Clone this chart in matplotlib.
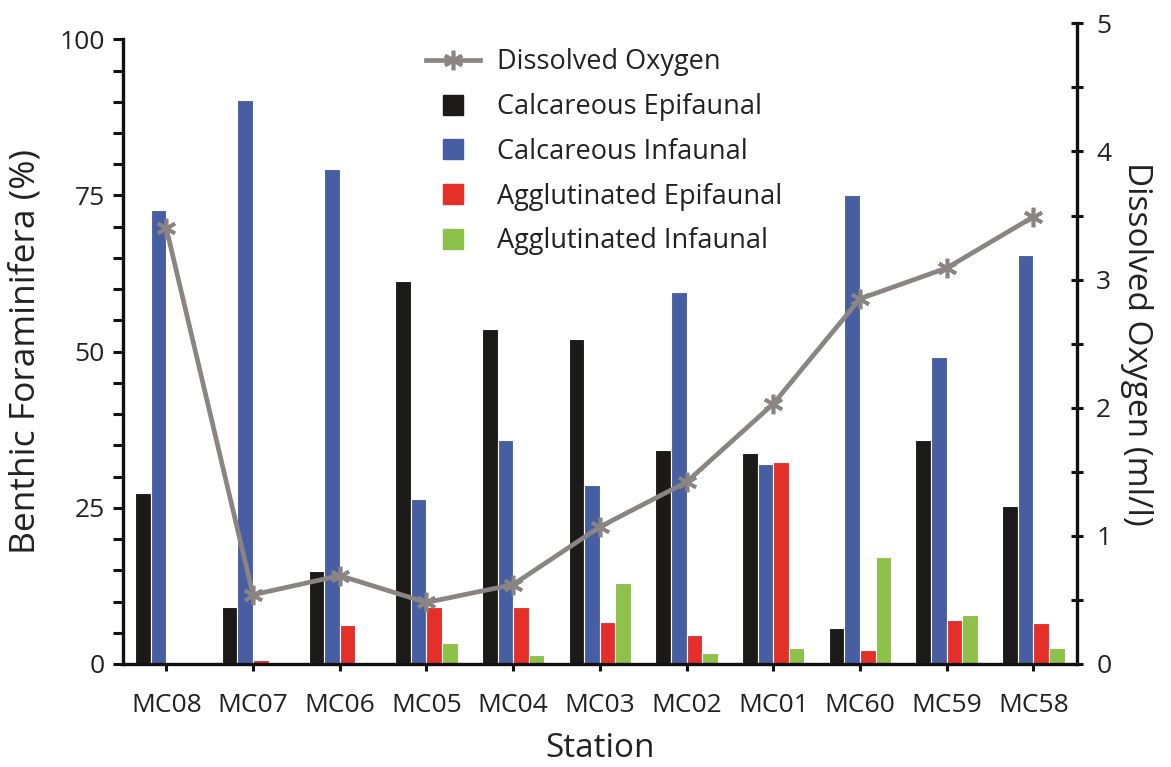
import matplotlib
matplotlib.use("Agg")
import matplotlib.pyplot as plt
import numpy as np
from matplotlib.ticker import MultipleLocator
from matplotlib.lines import Line2D

plt.rcParams['font.family'] = ['Open Sans', 'DejaVu Sans']

stations = ["MC08", "MC07", "MC06", "MC05", "MC04", "MC03",
            "MC02", "MC01", "MC60", "MC59", "MC58"]

calc_epi = [27.4, 9.1, 14.9, 61.3, 53.7, 52.0, 34.3, 33.8, 5.7, 35.9, 25.3]
calc_inf = [72.6, 90.2, 79.2, 26.4, 35.9, 28.6, 59.6, 32.0, 75.1, 49.1, 65.5]
aggl_epi = [0.0, 0.7, 6.2, 9.2, 9.2, 6.8, 4.6, 32.3, 2.2, 7.1, 6.6]
aggl_inf = [0.0, 0.0, 0.0, 3.3, 1.5, 13.0, 1.8, 2.5, 17.1, 7.9, 2.6]

dissolved_oxygen = [3.40, 0.54, 0.69, 0.48, 0.62, 1.07, 1.42, 2.03, 2.85, 3.09, 3.49]

series = [
    ("Calcareous Epifaunal", calc_epi, "#1b1a18"),
    ("Calcareous Infaunal", calc_inf, "#485ea3"),
    ("Agglutinated Epifaunal", aggl_epi, "#e5302a"),
    ("Agglutinated Infaunal", aggl_inf, "#8dc14a"),
]
line_color = "#8a8582"
text_color = "#222222"
star = (6, 2, 0)

fig = plt.figure(figsize=(11.71, 7.67), dpi=100)
left, bottom, width = 0.105, 0.1343, 0.8145
ax = fig.add_axes([left, bottom, width, 0.8145])
ax2 = fig.add_axes([left, bottom, width, 0.8353])
ax2.patch.set_visible(False)

x = np.arange(len(stations))
bw = 0.18
offsets = [-1.5, -0.5, 0.5, 1.5]
for (name, vals, col), off in zip(series, offsets):
    ax.bar(x + off * bw, vals, width=bw, color=col, edgecolor="white",
           linewidth=0.8, zorder=2)

ax.set_xlim(-0.5, len(stations) - 0.5)
ax.set_ylim(0, 100)
ax.yaxis.set_major_locator(MultipleLocator(25))
ax.yaxis.set_minor_locator(MultipleLocator(5))
ax.set_xticks(x)
ax.set_xticklabels(stations)
for s in ["top", "right"]:
    ax.spines[s].set_visible(False)
for s in ["left", "bottom"]:
    ax.spines[s].set_linewidth(2.4)
    ax.spines[s].set_color("#111111")
ax.tick_params(axis="y", which="both", direction="out", length=7, width=2.2,
               labelsize=19, colors="#111111", labelcolor=text_color, pad=6)
ax.tick_params(axis="x", which="major", direction="out", length=5, width=2.2,
               labelsize=19, colors="#111111", labelcolor=text_color, pad=16)
ax.set_ylabel("Benthic Foraminifera (%)", fontsize=25.5, color=text_color, labelpad=12)
ax.set_xlabel("Station", fontsize=24, color=text_color, labelpad=10)

# Dissolved oxygen on its own right-hand scale
ax2.plot(x, dissolved_oxygen, color=line_color, linewidth=3.4,
         marker=star, markersize=14, markeredgewidth=2.6,
         markeredgecolor=line_color, zorder=3)
ax2.set_xlim(ax.get_xlim())
ax2.set_ylim(0, 5)
ax2.yaxis.set_major_locator(MultipleLocator(1))
ax2.yaxis.set_minor_locator(MultipleLocator(0.5))
ax2.yaxis.tick_right()
ax2.yaxis.set_label_position("right")
ax2.set_xticks([])
for s in ["top", "left", "bottom"]:
    ax2.spines[s].set_visible(False)
ax2.spines["right"].set_linewidth(2.4)
ax2.spines["right"].set_color("#111111")
ax2.tick_params(axis="y", which="both", direction="inout", length=8, width=2.2,
                labelsize=19, colors="#111111", labelcolor=text_color, pad=10)
ax2.set_ylabel("Dissolved Oxygen (ml/l)", fontsize=24, color=text_color,
               rotation=270, labelpad=30)

handles = [Line2D([0], [0], color=line_color, linewidth=3.4, marker=star,
                  markersize=14, markeredgewidth=2.6)]
labels = ["Dissolved Oxygen"]
for name, vals, col in series:
    handles.append(Line2D([0], [0], linestyle="none", marker="s",
                          markersize=14, color=col))
    labels.append(name)
leg = fig.legend(handles, labels, loc="upper left", bbox_to_anchor=(0.364, 0.937),
                 frameon=False, fontsize=19.5, handlelength=2.0,
                 labelspacing=0.62, handletextpad=0.6, borderpad=0,
                 borderaxespad=0, labelcolor=text_color)

fig.savefig("out.png", dpi=100)
